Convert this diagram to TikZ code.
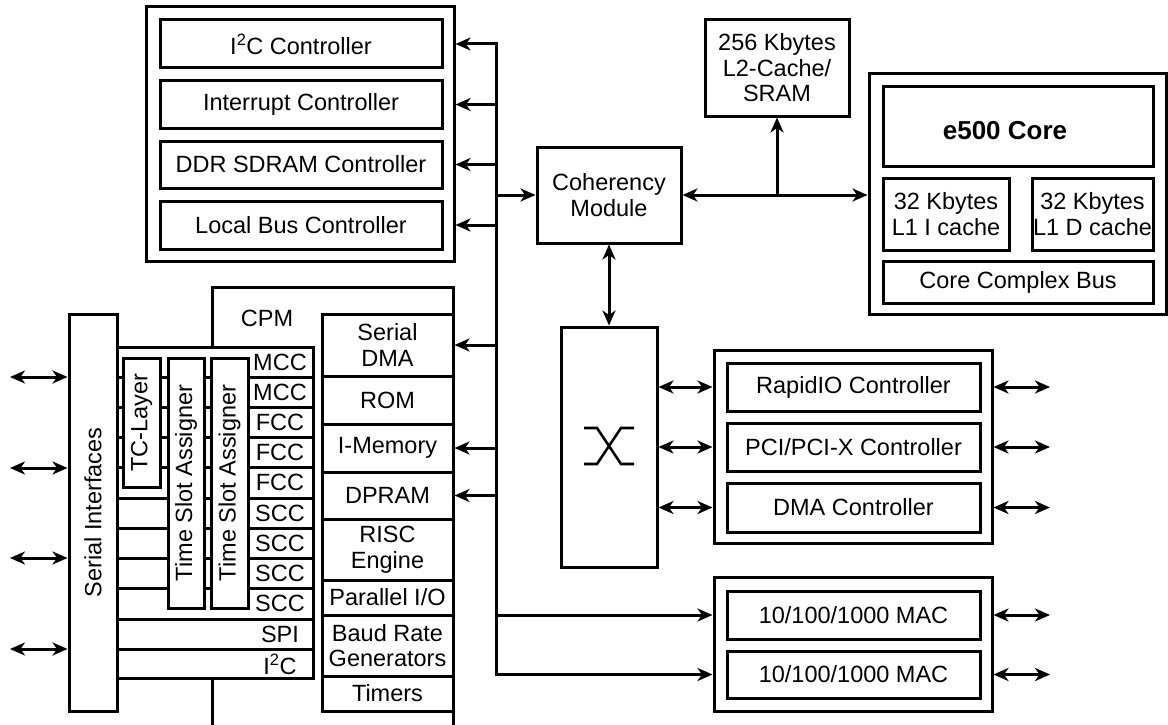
\documentclass[tikz,border=0pt]{standalone}
\usepackage{fontspec}
\setmainfont{Liberation Sans}
\usetikzlibrary{arrows.meta}
\newcommand\drawbox[6]{\node[box,minimum width={#4-#2},minimum height={#5-#3}] (#1) at ({(#2+#4)/2},{(#3+#5)/2}) {#6};}
\begin{document}
\begin{tikzpicture}[x=1pt,y=-1pt,line width=3pt,
  every node/.style={font=\fontsize{23.5}{25.5}\selectfont},
  box/.style={draw,fill=white,inner sep=0pt,align=center,line width=3pt},
  >={Stealth[length=15pt,width=13pt,inset=4.5pt]},
  arr/.style={->},dbl/.style={<->},
  xline/.style={line width=2.6pt}]
\useasboundingbox (0,0) rectangle (1168,725);
% ---------- top-left controllers ----------
\drawbox{tl}{146}{7}{454}{261}{}
\drawbox{i2c}{160}{20}{442}{68}{I\textsuperscript{2}C Controller}
\drawbox{intc}{160}{81}{442}{128}{Interrupt Controller}
\drawbox{ddr}{160}{141}{442}{188}{DDR SDRAM Controller}
\drawbox{lbc}{160}{201}{442}{249}{Local Bus Controller}
% ---------- coherency, L2, core ----------
\drawbox{coh}{537}{147}{681}{243}{Coherency\\Module}
\drawbox{l2}{705}{20}{849}{116}{256 Kbytes\\L2-Cache/\\SRAM}
\drawbox{e5}{869}{74}{1166}{314}{}
\drawbox{core}{883}{87}{1153}{166}{}
\node[font=\fontsize{26}{28}\selectfont\bfseries] (corelbl) at (1005,131) {e500 Core};
\drawbox{l1i}{883}{178}{1009}{250}{32 Kbytes\\L1 I cache}
\drawbox{l1d}{1032}{178}{1153}{250}{32 Kbytes\\L1 D cache}
\drawbox{ccb}{883}{261}{1153}{303}{Core Complex Bus}
% ---------- switch ----------
\drawbox{sw}{561}{327}{657}{567}{}
\draw[xline] (584,428) -- (597,428) -- (621,464) -- (634,464);
\draw[xline] (634,428) -- (621,428) -- (597,464) -- (584,464);
% ---------- right groups ----------
\drawbox{g1}{714}{350}{992}{543}{}
\drawbox{rio}{727}{363}{980}{411}{RapidIO Controller}
\drawbox{pci}{727}{423}{980}{471}{PCI/PCI-X Controller}
\drawbox{dmac}{727}{483}{980}{532}{DMA Controller}
\drawbox{g2}{714}{577}{992}{711}{}
\drawbox{mac1}{727}{591}{980}{639}{10/100/1000 MAC}
\drawbox{mac2}{727}{651}{980}{698}{10/100/1000 MAC}
% ---------- CPM ----------
\draw (212,725) -- (212,287) -- (453,287) -- (453,725);
\node (cpm) at (267,318) {CPM};
\drawbox{ch}{117}{347}{313}{678}{}
\foreach \yy in {377,407,437,467,498,528,558,588,619,649}
  \draw (117,\yy) -- (313,\yy);
\drawbox{tc}{123}{358}{160}{487}{}
\node[rotate=90] (tclbl) at (tc) {TC-Layer};
\drawbox{tsa1}{168}{358}{204}{608}{}
\node[rotate=90] (tsa1lbl) at (tsa1) {Time Slot Assigner};
\drawbox{tsa2}{211}{358}{248}{608}{}
\node[rotate=90] (tsa2lbl) at (tsa2) {Time Slot Assigner};
\node (c1) at (280,362) {MCC};
\node (c2) at (280,392) {MCC};
\node (c3) at (280,422) {FCC};
\node (c4) at (280,452) {FCC};
\node (c5) at (280,482.5) {FCC};
\node (c6) at (280,513) {SCC};
\node (c7) at (280,543) {SCC};
\node (c8) at (280,573) {SCC};
\node (c9) at (280,603.5) {SCC};
\node (c10) at (280,634) {SPI};
\node (c11) at (280,664) {I\textsuperscript{2}C};
\drawbox{si}{69}{314}{117}{711}{}
\node[rotate=90] (silbl) at (si) {Serial Interfaces};
\drawbox{sdma}{322}{314}{453}{376}{Serial\\DMA}
\drawbox{rom}{322}{376}{453}{424}{ROM}
\drawbox{imem}{322}{424}{453}{472}{I-Memory}
\drawbox{dpram}{322}{472}{453}{519}{DPRAM}
\drawbox{risc}{322}{519}{453}{580}{RISC\\Engine}
\drawbox{pio}{322}{580}{453}{615}{Parallel I/O}
\drawbox{brg}{322}{615}{453}{676}{Baud Rate\\Generators}
\drawbox{tim}{322}{676}{453}{711}{Timers}
% ---------- connectors ----------
\coordinate (busx) at (496,0);
\coordinate (outx) at (1050,0);
\coordinate (j) at (777,195);
\coordinate (s1) at (10,377);
\coordinate (s2) at (10,468);
\coordinate (s3) at (10,558);
\coordinate (s4) at (10,649);
\draw[dbl] (i2c -| tl.east) -- (i2c -| busx) -- (mac2 -| busx) -- (mac2 -| g2.west);
\draw[arr] (intc -| busx) -- (intc -| tl.east);
\draw[arr] (ddr -| busx) -- (ddr -| tl.east);
\draw[arr] (lbc -| busx) -- (lbc -| tl.east);
\draw[arr] (coh -| busx) -- (coh.west);
\draw[arr] (sdma -| busx) -- (sdma.east);
\draw[arr] (imem -| busx) -- (imem.east);
\draw[arr] (dpram -| busx) -- (dpram.east);
\draw[arr] (mac1 -| busx) -- (mac1 -| g2.west);
\draw[dbl] (coh.east) -- (coh.east -| e5.west);
\draw[arr] (j) -- (j |- l2.south);
\draw[dbl] (coh.south) -- (sw.north);
\draw[dbl] (rio -| sw.east) -- (rio -| g1.west);
\draw[dbl] (pci -| sw.east) -- (pci -| g1.west);
\draw[dbl] (dmac -| sw.east) -- (dmac -| g1.west);
\draw[dbl] (rio -| g1.east) -- (rio -| outx);
\draw[dbl] (pci -| g1.east) -- (pci -| outx);
\draw[dbl] (dmac -| g1.east) -- (dmac -| outx);
\draw[dbl] (mac1 -| g2.east) -- (mac1 -| outx);
\draw[dbl] (mac2 -| g2.east) -- (mac2 -| outx);
\draw[dbl] (s1) -- (s1 -| si.west);
\draw[dbl] (s2) -- (s2 -| si.west);
\draw[dbl] (s3) -- (s3 -| si.west);
\draw[dbl] (s4) -- (s4 -| si.west);
\end{tikzpicture}
\end{document}
